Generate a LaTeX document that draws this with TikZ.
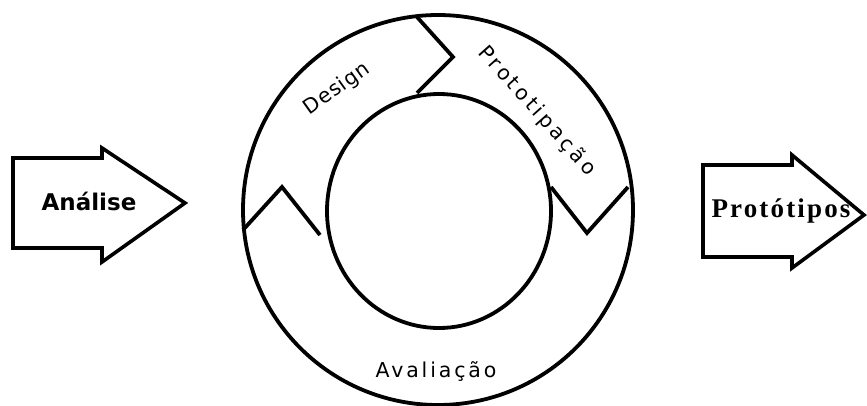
\documentclass[tikz,border=0pt]{standalone}
\usepackage{fontspec}
\newfontfamily\ringfont{DejaVu Sans}
\newfontfamily\serifbold{Liberation Serif}
\begin{document}
\begin{tikzpicture}[x=1pt,y=1pt]
\tikzset{
  ringline/.style={line width=3.8pt, line join=miter},
  bigarrow/.style={line width=3.6pt, line join=miter},
  ringlabel/.style={inner sep=0pt, font=\ringfont\fontsize{20.5}{20.5}\selectfont},
}
\useasboundingbox (0,0) rectangle (867,405);
% ring
\coordinate (c) at (438,195);
\draw[ringline] (c) circle (195);
\draw[ringline] (439,194) ellipse (112 and 117);
% chevrons between the three stages
\coordinate (t1) at (417,388); \coordinate (t2) at (453,348); \coordinate (t3) at (417,312);
\coordinate (r1) at (628,218); \coordinate (r2) at (587,172); \coordinate (r3) at (551,218);
\coordinate (l1) at (243,175); \coordinate (l2) at (282,218); \coordinate (l3) at (320,170);
\draw[ringline] (t1) -- (t2) -- (t3);
\draw[ringline] (r1) -- (r2) -- (r3);
\draw[ringline] (l1) -- (l2) -- (l3);
% ring labels
\node[ringlabel, rotate=35.5] (design) at (337,316)
  {\addfontfeatures{LetterSpace=5}Design};
\node[ringlabel, rotate=-48.3] (proto) at (537,294)
  {\addfontfeatures{LetterSpace=16}Prototipação};
\node[ringlabel, anchor=base] (aval) at (436,28)
  {\addfontfeatures{LetterSpace=14}Avaliação};
% input arrow
\draw[bigarrow] (13,247) -- (102,247) -- (102,257) -- (185,202) -- (102,143)
  -- (102,157) -- (13,157) -- cycle;
\node[anchor=base, inner sep=0pt, font=\ringfont\bfseries\fontsize{23}{23}\selectfont]
  (analise) at (89,195) {Análise};
% output arrow
\draw[bigarrow] (703,240) -- (792,240) -- (792,250) -- (864,190) -- (792,137)
  -- (792,148) -- (703,148) -- cycle;
\node[anchor=base, inner sep=0pt, font=\serifbold\bfseries\fontsize{27}{27}\selectfont]
  (prototipos) at (781,188) {\addfontfeatures{LetterSpace=8}Protótipos};
\end{tikzpicture}
\end{document}
